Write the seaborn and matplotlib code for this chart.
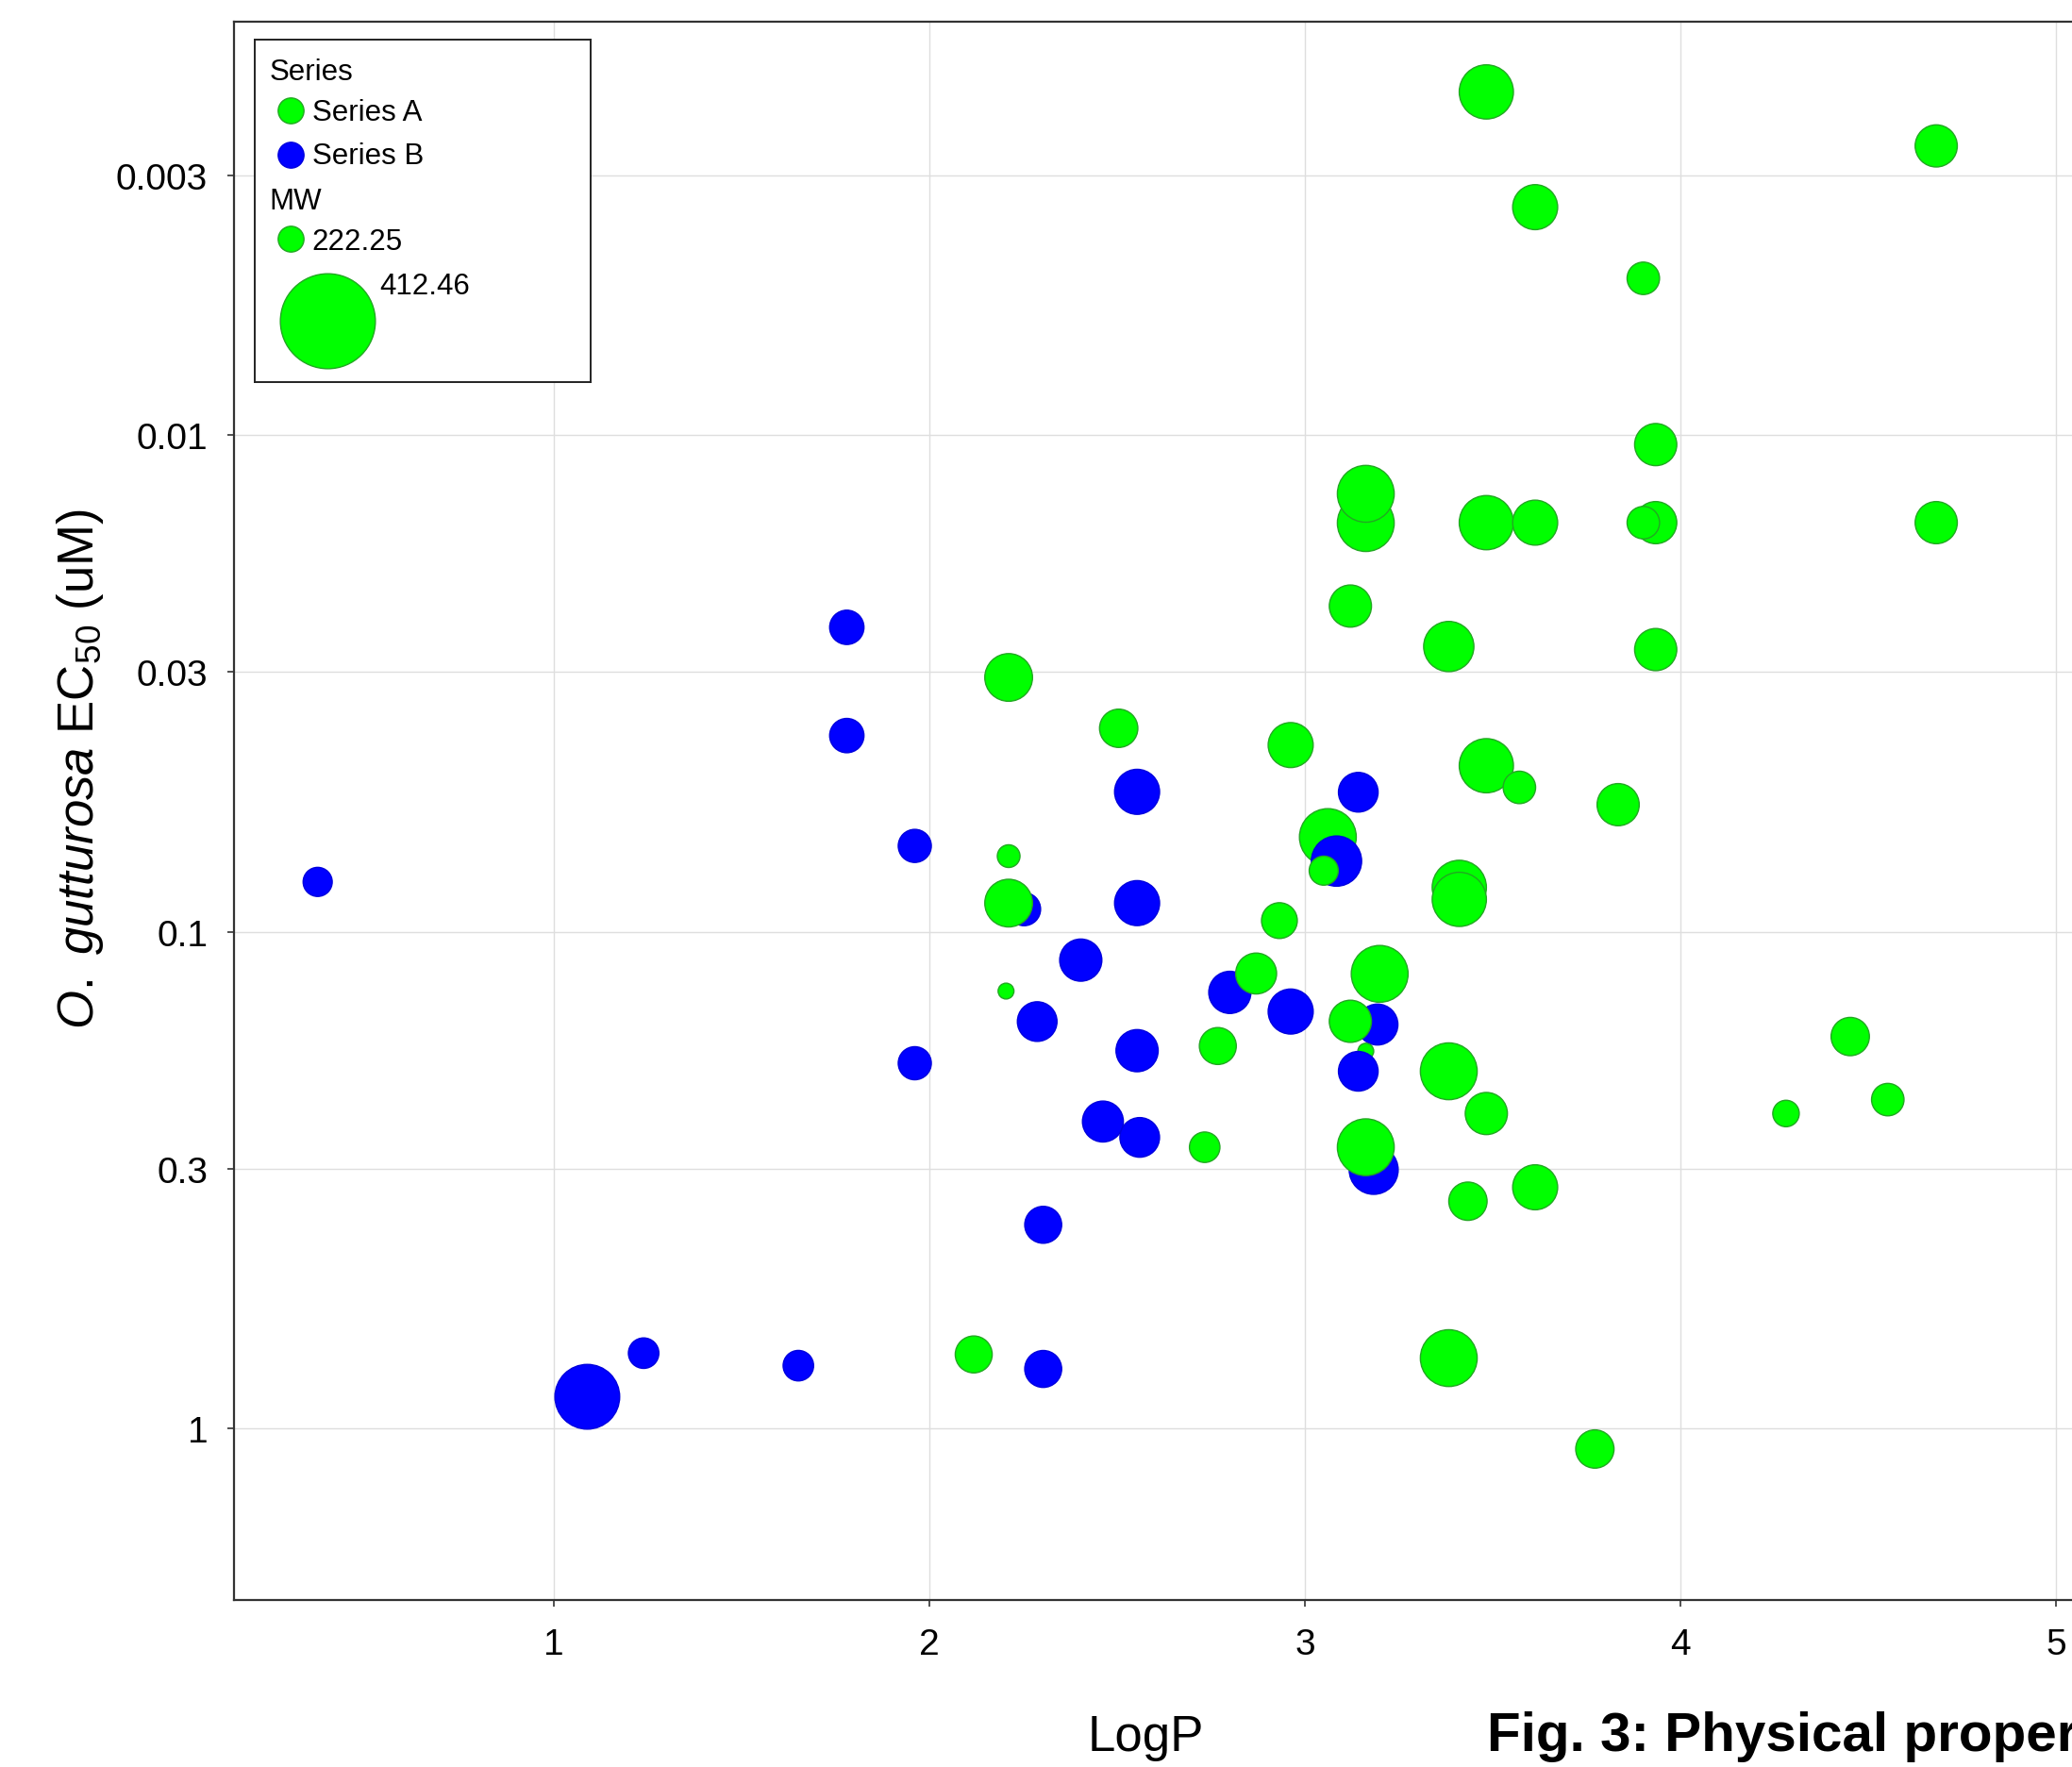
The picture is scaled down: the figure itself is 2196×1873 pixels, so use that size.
import matplotlib
matplotlib.use('Agg')
import pandas as pd
import matplotlib.pyplot as plt
import seaborn as sns
from matplotlib.ticker import NullLocator

# values, listed in drawing order
# (a couple of blue points sit on top of green ones)
series = (['Series A'] +
          ['Series B'] * 16 +
          ['Series A'] +
          ['Series B'] * 9 +
          ['Series A'] * 44)

logp = [3.061,
        # Series B
        1.780, 1.780, 1.961, 0.371, 2.553, 3.142, 3.084, 2.252, 2.553, 2.403,
        2.800, 2.962, 2.287, 3.193, 1.961, 2.553,
        3.162,
        3.142, 2.462, 2.560, 3.183, 2.303, 1.239, 1.651, 2.303, 1.089,
        # Series A
        3.483, 4.681, 3.613, 3.901, 3.934, 3.162, 3.162, 3.483, 3.613, 3.934,
        3.901, 4.681, 3.121, 3.383, 3.934, 2.211, 2.504, 2.962, 3.483, 3.571,
        3.834, 2.211, 3.050, 3.411, 3.411, 2.211, 2.932, 2.870, 3.199, 2.204,
        3.121, 2.768, 3.383, 4.452, 4.552, 3.483, 4.281, 2.733, 3.162, 3.613,
        3.434, 2.118, 3.383, 3.772]

ec50 = [0.0645,
        0.0244, 0.0403, 0.0672, 0.0794, 0.0523, 0.0524, 0.0721, 0.0901, 0.0876, 0.1141,
        0.1325, 0.1448, 0.1517, 0.1538, 0.1840, 0.1736,
        0.1740,
        0.1910, 0.2411, 0.2595, 0.3016, 0.3891, 0.7054, 0.7475, 0.7590, 0.8634,
        0.00204, 0.00262, 0.00348, 0.00484, 0.01046, 0.01505, 0.01314, 0.01502, 0.01502, 0.01502,
        0.01502, 0.01502, 0.02211, 0.02667, 0.02705, 0.03078, 0.03896, 0.04211, 0.04634, 0.05124,
        0.05551, 0.07046, 0.07536, 0.08144, 0.08610, 0.08760, 0.09500, 0.1214, 0.1216, 0.1317,
        0.1515, 0.1699, 0.1910, 0.1626, 0.2178, 0.2323, 0.2323, 0.2716, 0.2716, 0.3270,
        0.3488, 0.7096, 0.7218, 1.100]

mw = [366,
      267, 267, 263, 251, 308, 286, 332, 263, 308, 296,
      296, 308, 286, 291, 263, 296,
      222.25,
      286, 291, 286, 326, 276, 255, 255, 276, 412.46,
      352, 296, 308, 261, 296, 366, 366, 352, 308, 296,
      261, 296, 296, 332, 296, 320, 281, 308, 352, 261,
      296, 235, 251, 352, 352, 320, 272, 291, 366, 222.25,
      296, 276, 366, 281, 261, 296, 244, 255, 366, 308,
      281, 276, 366, 281]

x_ticks = [1, 2, 3, 4, 5]
y_ticks = [0.003, 0.01, 0.03, 0.1, 0.3, 1]
y_tick_labels = ['0.003', '0.01', '0.03', '0.1', '0.3', '1']
mw_legend = ['222.25', '412.46']

df = pd.DataFrame({'LogP': logp, 'EC50': ec50, 'MW': mw, 'Series': series})

# styles
sns.set_style('whitegrid', {'grid.color': '#dedede', 'axes.edgecolor': '#333333'})
plt.rcParams['font.family'] = ['Liberation Sans', 'DejaVu Sans']
plt.rcParams['mathtext.fontset'] = 'custom'
plt.rcParams['mathtext.rm'] = 'Liberation Sans'
plt.rcParams['mathtext.it'] = 'Liberation Sans:italic'
plt.rcParams['text.color'] = 'black'
plt.rcParams['axes.labelcolor'] = 'black'
plt.rcParams['xtick.color'] = 'black'
plt.rcParams['ytick.color'] = 'black'

green = '#00ff00'
blue = '#0000ff'
palette = {'Series A': green, 'Series B': blue}
edge_cols = {'Series A': '#22a822', 'Series B': '#0000dd'}

fig = plt.figure(figsize=(21.96, 18.74), dpi=100)
# the source picture is cropped on the right, so the axes run past the edge
ax = fig.add_axes([0.1129, 0.0945, 0.9247, 0.8928])

sns.scatterplot(data=df, x='LogP', y='EC50', hue='Series', size='MW',
                palette=palette, sizes=(146, 2440), size_norm=(222.25, 412.46),
                edgecolor=[edge_cols[s] for s in series], linewidth=1.0,
                legend=False, ax=ax, zorder=3)

ax.set_yscale('log')
ax.set_xlim(0.148, 5.25)
ax.set_ylim(2.214, 0.001472)
ax.set_xticks(x_ticks)
ax.set_xticklabels([str(t) for t in x_ticks])
ax.set_yticks(y_ticks)
ax.set_yticklabels(y_tick_labels)
ax.yaxis.set_minor_locator(NullLocator())
ax.set_axisbelow(True)
ax.grid(True, color='#dedede', linewidth=1.0)

ax.tick_params(axis='both', which='major', bottom=True, left=True, length=5,
               width=1.2, color='#333333', labelsize=28, labelcolor='black')
ax.tick_params(axis='x', pad=16)
ax.tick_params(axis='y', pad=15)
for side in ['left', 'bottom', 'top']:
    ax.spines[side].set_color('#333333')
    ax.spines[side].set_linewidth(1.6)
ax.spines['right'].set_visible(False)

ax.set_xlabel('LogP', fontsize=38, color='black')
ax.xaxis.label.set_va('baseline')
ax.xaxis.set_label_coords(0.4757, -0.095)
ax.set_ylabel(r'$\it{O.}$ $\it{gutturosa}$ EC$_{50}$ (uM)', fontsize=38, color='black')
ax.yaxis.set_label_coords(-0.067, 0.527)

# caption (cut off by the right edge, as in the source)
fig.text(0.7175, 0.0098, 'Fig. 3: Physical properties', fontsize=42,
         fontweight='bold', color='black', ha='left', va='baseline')

# legend box, laid out in pixel offsets from its top left corner
lax = fig.add_axes([0.12295, 0.78335, 0.16211, 0.1937], zorder=5)
lax.set_xlim(0, 356)
lax.set_ylim(363, 0)
lax.set_xticks([])
lax.set_yticks([])
lax.grid(False)
lax.set_facecolor('white')
for sp in lax.spines.values():
    sp.set_color('#222222')
    sp.set_linewidth(1.4)

fs = 22.5
lax.text(15.7, 42, 'Series', fontsize=fs, va='baseline')
lax.scatter([38.3], [75.3], s=387, c=green, edgecolors=edge_cols['Series A'], linewidth=1.0)
lax.text(60.7, 85.3, 'Series A', fontsize=fs, va='baseline')
lax.scatter([38.3], [122], s=387, c=blue, edgecolors=edge_cols['Series B'], linewidth=1.0)
lax.text(60.7, 131, 'Series B', fontsize=fs, va='baseline')
lax.text(15.7, 178.7, 'MW', fontsize=fs, va='baseline')
lax.scatter([38.3], [211.3], s=387, c=green, edgecolors=edge_cols['Series A'], linewidth=1.0)
lax.text(60.7, 222, mw_legend[0], fontsize=fs, va='baseline')
lax.scatter([76.7], [298], s=5256, c=green, edgecolors=edge_cols['Series A'], linewidth=1.0)
lax.text(132.7, 269.3, mw_legend[1], fontsize=fs, va='baseline')

fig.savefig('out.png', dpi=100)
